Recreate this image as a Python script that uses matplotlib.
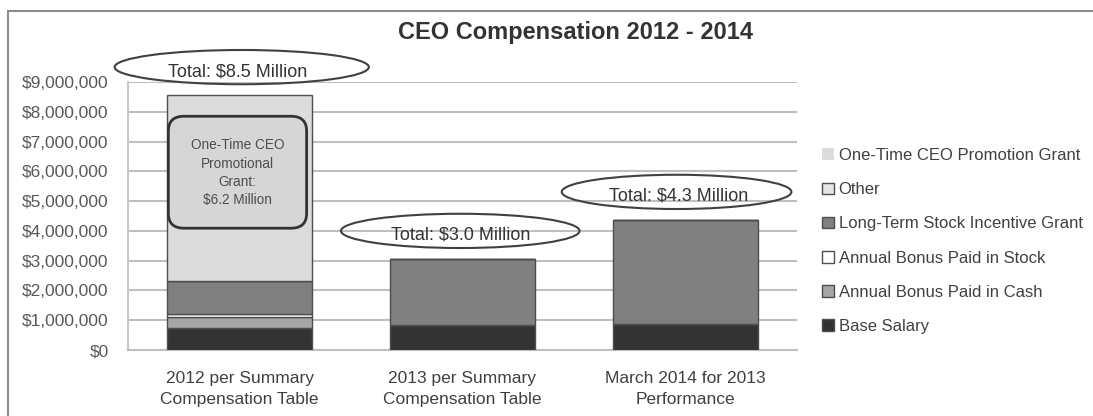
import numpy as np
import matplotlib
matplotlib.use("Agg")
import matplotlib.pyplot as plt
from matplotlib.patches import Ellipse, FancyBboxPatch, Rectangle, Patch
from matplotlib.ticker import FuncFormatter

plt.rcParams['font.family'] = ['Liberation Sans', 'DejaVu Sans']

# ------------------------------------------------------------
# Data (dollars)
# ------------------------------------------------------------
categories = ['2012 per Summary\nCompensation Table',
              '2013 per Summary\nCompensation Table',
              'March 2014 for 2013\nPerformance']
base_salary = [740000, 840000, 870000]
bonus_cash = [380000, 0, 0]
bonus_stock = [100000, 0, 0]
long_term = [1100000, 2210000, 3490000]
other = [0, 0, 0]
promo_grant = [6230000, 0, 0]
total_labels = ['Total: $8.5 Million', 'Total: $3.0 Million', 'Total: $4.3 Million']
grant_note = 'One-Time CEO\nPromotional\nGrant:\n$6.2 Million'

series = [
    ('Base Salary', base_salary, '#333333'),
    ('Annual Bonus Paid in Cash', bonus_cash, '#a6a6a6'),
    ('Annual Bonus Paid in Stock', bonus_stock, '#ffffff'),
    ('Long-Term Stock Incentive Grant', long_term, '#808080'),
    ('Other', other, '#e6e6e6'),
    ('One-Time CEO Promotion Grant', promo_grant, '#dcdcdc'),
]

# ------------------------------------------------------------
# Figure
# ------------------------------------------------------------
fig = plt.figure(figsize=(10.93, 4.16), dpi=100)
ax = fig.add_axes([128 / 1093, 1 - 350 / 416, (797 - 128) / 1093, (350 - 82) / 416])

# outer frame
fig.patches.append(Rectangle((8 / 1093, -0.1), 1.2, 1 - 11 / 416 + 0.1,
                             transform=fig.transFigure, fill=False,
                             edgecolor='#8c8c8c', lw=1.5))

x = np.arange(len(categories))
bottom = np.zeros(len(categories))
for name, vals, col in series:
    vals = np.array(vals, dtype=float)
    ax.bar(x, vals, width=0.65, bottom=bottom, color=col,
           edgecolor='#4d4d4d', linewidth=1.0, zorder=3)
    bottom += vals
totals = bottom

ax.set_xlim(-0.5, 2.5)
ax.set_ylim(0, 9000000)
ax.set_yticks(np.arange(0, 9000001, 1000000))
ax.yaxis.set_major_formatter(FuncFormatter(lambda v, p: '${:,.0f}'.format(v)))
ax.tick_params(axis='y', length=0, pad=14, labelsize=12.5, labelcolor='#595959')
ax.tick_params(axis='x', length=0, pad=15, labelsize=12.5, labelcolor='#404040')
ax.set_xticks(x)
ax.set_xticklabels(categories, linespacing=1.5)
ax.grid(axis='y', color='#bfbfbf', lw=1.5, zorder=0)
for s in ['top', 'right']:
    ax.spines[s].set_visible(False)
ax.spines['left'].set_color('#c8c8c8')
ax.spines['bottom'].set_color('#bfbfbf')
ax.spines['left'].set_linewidth(1.5)
ax.spines['bottom'].set_linewidth(1.5)

fig.text(575 / 1093, 1 - 33 / 416, 'CEO Compensation 2012 - 2014',
         ha='center', va='center', fontsize=17, fontweight='bold', color='#333333')

# total ellipses
ell_dx = [0.01, -0.01, -0.04]
ell_w = [1.14, 1.07, 1.03]
for i, lab in enumerate(total_labels):
    cy = totals[i] + 950000
    ax.add_patch(Ellipse((x[i] + ell_dx[i], cy), ell_w[i], 1150000, fill=False,
                         edgecolor='#404040', lw=1.5, clip_on=False, zorder=5))
    ax.text(x[i] - 0.01 + (0.0 if i < 2 else -0.02), cy - 150000, lab, ha='center',
            va='center', fontsize=13, color='#333333', zorder=6)

# rounded note box inside the 2012 bar
box = FancyBboxPatch((-0.319, 4090000), 0.62, 3760000,
                     boxstyle='round,pad=0,rounding_size=0.07',
                     mutation_aspect=7.1e6, facecolor='#d6d6d6',
                     edgecolor='#333333', lw=2, zorder=6)
ax.add_patch(box)
ax.text(-0.01, 5950000, grant_note, ha='center', va='center', fontsize=9.8,
        color='#4d4d4d', linespacing=1.4, zorder=7)

# legend, top to bottom as drawn
handles = [Patch(facecolor=col, edgecolor=('none' if name == 'One-Time CEO Promotion Grant' else '#4d4d4d'),
                 linewidth=1.0, label=name) for name, vals, col in series[::-1]]
leg = fig.legend(handles=handles, loc='center left',
                 bbox_to_anchor=(822 / 1093, 1 - 241 / 416), frameon=False,
                 fontsize=12, handlelength=0.7, handleheight=0.7,
                 handletextpad=0.3, labelspacing=1.15, borderaxespad=0,
                 borderpad=0)
for t in leg.get_texts():
    t.set_color('#404040')

fig.savefig('out.png', dpi=100)
